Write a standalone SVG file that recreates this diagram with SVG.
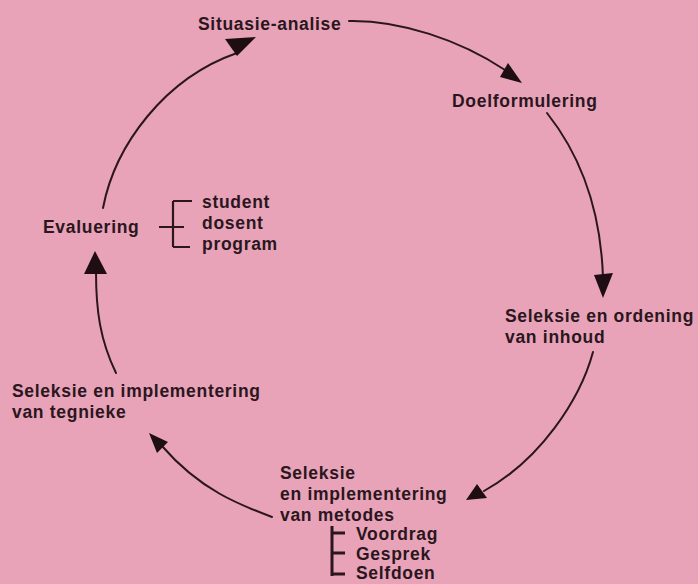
<svg xmlns="http://www.w3.org/2000/svg" width="698" height="584" viewBox="0 0 698 584">
<style>
text{font-family:"Liberation Sans",Arial,sans-serif;font-weight:bold;font-size:17.5px;letter-spacing:0.7px;fill:#2b1620}
.c{fill:none;stroke:#2b1620;stroke-width:2;stroke-linecap:round}
.b{fill:none;stroke:#2b1620;stroke-width:2.2}
.h{fill:#1e0e14}
</style>
<rect width="698" height="584" fill="#e8a3b8"/>
<g id="situasie"><text x="198" y="30">Situasie-analise</text></g>
<g id="doel"><text x="452" y="107">Doelformulering</text></g>
<g id="inhoud"><text x="505" y="322">Seleksie en ordening</text><text x="505" y="343">van inhoud</text></g>
<g id="metodes">
<text x="280" y="479">Seleksie</text><text x="280" y="500">en implementering</text><text x="280" y="521">van metodes</text>
<path class="b" d="M332,526V576M332,533H345M332,553H345M332,574H345" style="stroke-width:3"/>
<text x="356" y="540">Voordrag</text><text x="356" y="560">Gesprek</text><text x="356" y="579">Selfdoen</text>
</g>
<g id="tegnieke"><text x="12" y="397">Seleksie en implementering</text><text x="12" y="418">van tegnieke</text></g>
<g id="evaluering">
<text x="43" y="233">Evaluering</text>
<path class="b" d="M159,227H184M173,201V247M173,201H192M173,247H190"/>
<text x="202" y="208">student</text><text x="202" y="229">dosent</text><text x="202" y="250">program</text>
</g>
<g id="connectors">
<path class="c" d="M349,21C400,20 460,40 505,70"/>
<polygon class="h" points="500,77 508,63 522,83"/>
<path class="c" d="M547,113Q600,180 603,278"/>
<polygon class="h" points="594,275 613,273 603,298"/>
<path class="c" d="M593,352C580,400 540,460 484,491"/>
<polygon class="h" points="466,500 477,484 487,498"/>
<path class="c" d="M272,517C240,505 200,490 162,446"/>
<polygon class="h" points="149,433 157,453 168,442"/>
<path class="c" d="M116,373C100,340 96,310 96,272"/>
<polygon class="h" points="84,274 107,274 95,251"/>
<path class="c" d="M103,208C115,145 165,78 237,53"/>
<polygon class="h" points="225,39 256,37 237,56"/>
</g>
</svg>
